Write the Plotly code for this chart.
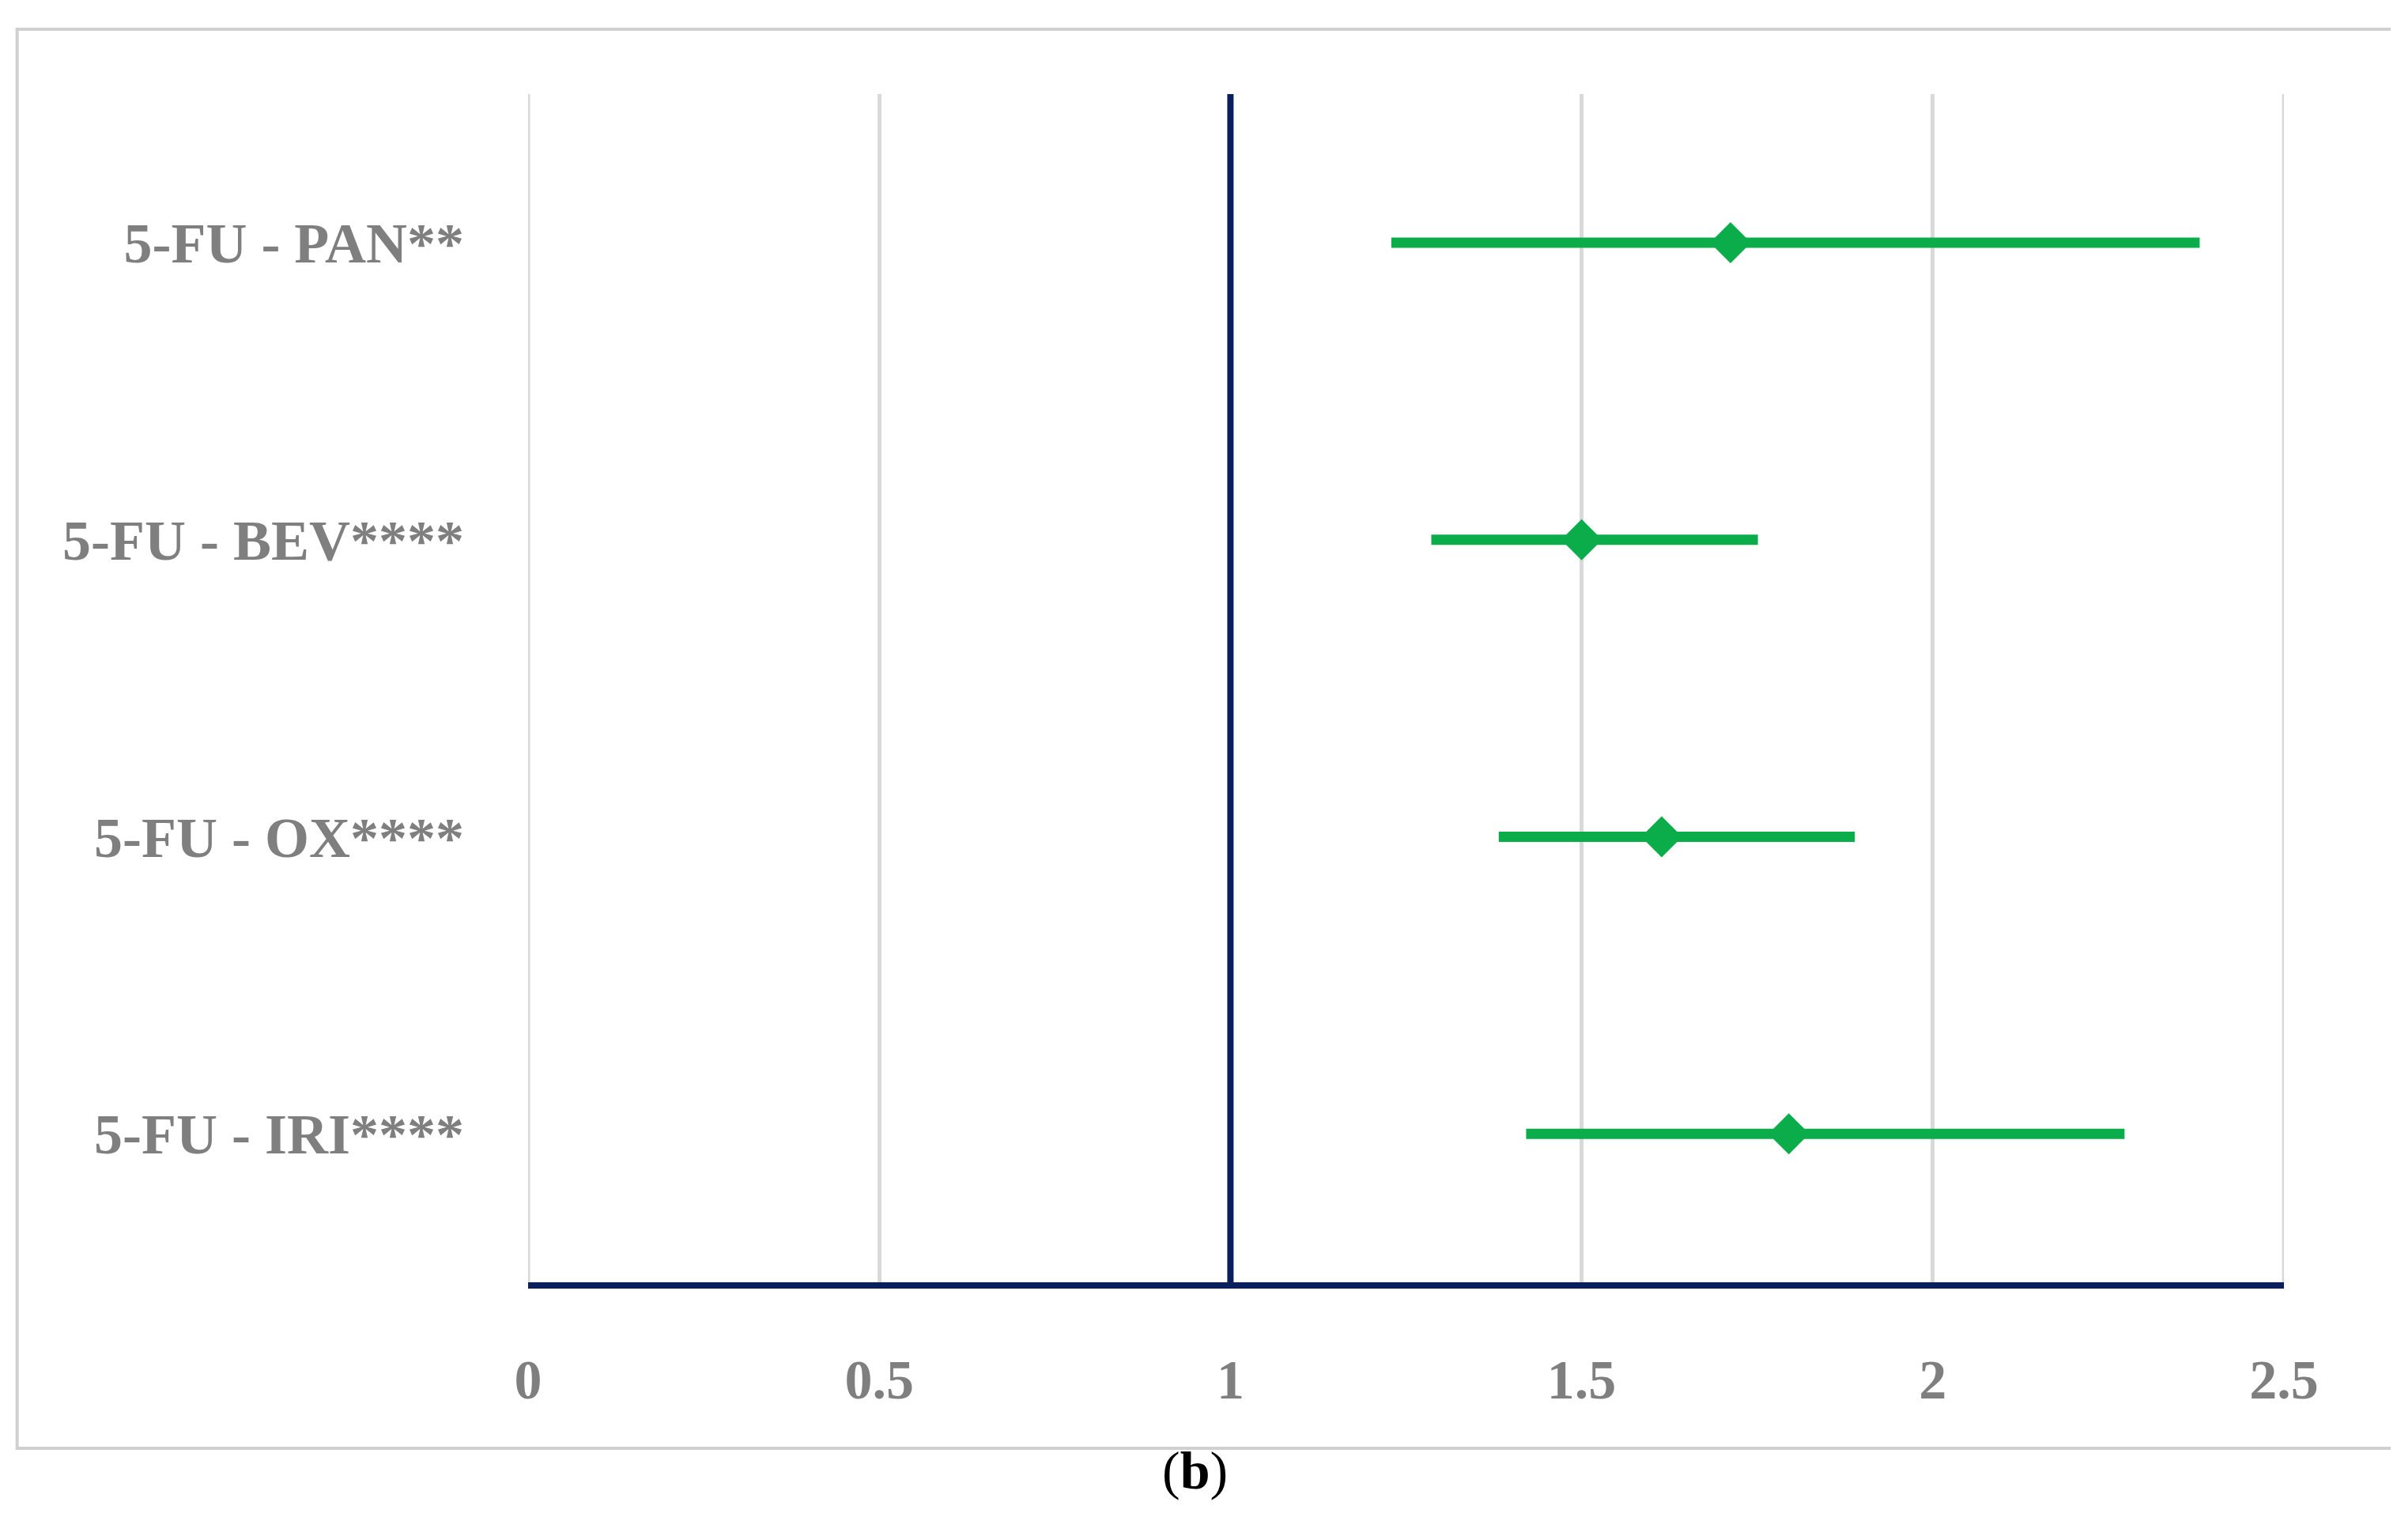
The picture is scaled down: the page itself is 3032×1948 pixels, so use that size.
import plotly.graph_objects as go

labels = ["5-FU - IRI****", "5-FU - OX****", "5-FU - BEV****", "5-FU - PAN**"]
ypos = [0.5, 1.5, 2.5, 3.5]
est = [1.795, 1.614, 1.50, 1.712]
low = [1.421, 1.382, 1.286, 1.229]
high = [2.273, 1.889, 1.751, 2.380]
xticks = [0, 0.5, 1, 1.5, 2, 2.5]
xticktext = ["0", "0.5", "1", "1.5", "2", "2.5"]

green = "#0AAD4A"
navy = "#0B1F5C"
grey = "#7F7F7F"
font = "Liberation Serif"

fig = go.Figure()
for gx in [0, 2.5]:
    fig.add_shape(type="line", x0=gx, x1=gx, y0=0, y1=4, xref="x", yref="y",
                  line=dict(color="#D9D9D9", width=5), layer="below")
fig.add_trace(go.Scatter(
    x=est, y=ypos, mode="markers",
    marker=dict(symbol="diamond", size=40, color=green),
    error_x=dict(type="data", symmetric=False,
                 array=[h - e for h, e in zip(high, est)],
                 arrayminus=[e - l for e, l in zip(est, low)],
                 color=green, thickness=13, width=0),
    showlegend=False))

fig.add_shape(type="line", x0=1, x1=1, y0=0, y1=4, xref="x", yref="y",
              line=dict(color=navy, width=8))
fig.add_shape(type="rect", xref="paper", yref="paper", x0=-0.291, x1=1.0635,
              y0=-0.1397, y1=1.0546, line=dict(color="#D0D0D0", width=4), layer="below")
fig.add_annotation(xref="paper", yref="paper", x=0.38, y=-0.185, showarrow=False,
                   text="(<b>b</b>)", font=dict(family=font, size=68, color="black"))

fig.update_layout(
    width=3032, height=1948, plot_bgcolor="white", paper_bgcolor="white",
    margin=dict(l=660, r=151, t=111, b=334),
    xaxis=dict(range=[0, 2.5], tickvals=xticks, ticktext=xticktext,
               showgrid=True, gridcolor="#D9D9D9", gridwidth=5, zeroline=False,
               showline=True, linecolor=navy, linewidth=8, ticks="", ticklabelstandoff=55,
               tickfont=dict(family=font, size=70, color=grey, weight="bold")),
    yaxis=dict(range=[0, 4], tickvals=ypos, ticktext=labels, showgrid=False,
               zeroline=False, showline=False, ticks="", ticklabelstandoff=80,
               tickfont=dict(family=font, size=72, color=grey, weight="bold")),
)
fig.write_html("out.html")
